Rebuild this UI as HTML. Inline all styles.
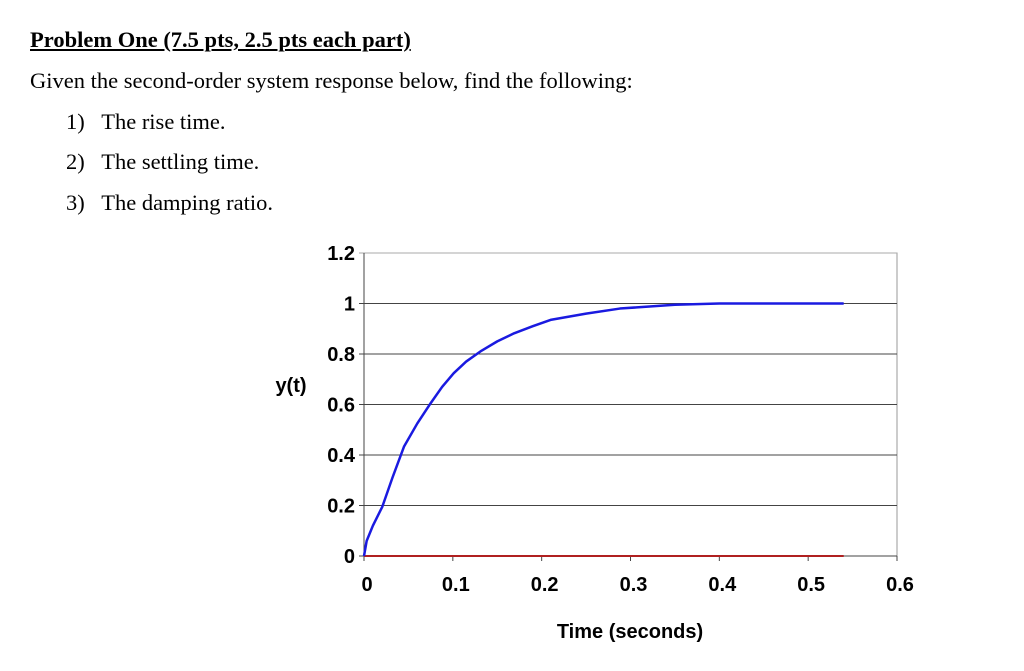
<!DOCTYPE html>
<html><head><meta charset="utf-8"><style>
body{margin:0;background:#fff;width:1024px;height:671px;overflow:hidden;font-family:"Liberation Serif",serif;color:#000}
.t{position:absolute;font-size:22.5px;white-space:nowrap}
svg text{font-family:"Liberation Sans",sans-serif;font-weight:bold;font-size:20px}
</style></head><body>
<div class="t" style="left:30px;top:27px;font-weight:bold;text-decoration:underline">Problem One (7.5 pts, 2.5 pts each part)</div>
<div class="t" style="left:30px;top:68px">Given the second-order system response below, find the following:</div>
<div class="t" style="left:66px;top:109px">1)&nbsp;&nbsp; The rise time.</div>
<div class="t" style="left:66px;top:149px">2)&nbsp;&nbsp; The settling time.</div>
<div class="t" style="left:66px;top:190px">3)&nbsp;&nbsp; The damping ratio.</div>
<svg id="c" width="1024" height="671" style="position:absolute;left:0;top:0"></svg>
<script>
const xTicks=[0,0.1,0.2,0.3,0.4,0.5,0.6];
const yTicks=[0,0.2,0.4,0.6,0.8,1,1.2];
const tVals=[0,0.003,0.01,0.0206,0.032,0.045,0.06,0.075,0.088,0.101,0.115,0.131,0.15,0.169,0.19,0.21,0.25,0.288,0.35,0.4,0.54];
const yVals=[0,0.06,0.12,0.195,0.31,0.433,0.525,0.605,0.67,0.724,0.77,0.81,0.85,0.882,0.91,0.935,0.96,0.98,0.995,1.0,1.0];
const refT=[0,0.54];
const refY=[0,0];
const X0=364,X1=897,Y0=556,Y1=253;
const sx=t=>X0+(X1-X0)*t/0.6;
const sy=v=>Y0-(Y0-Y1)*v/1.2;
const svg=document.getElementById('c');
const NS='http://www.w3.org/2000/svg';
function mk(tag,a){const e=document.createElementNS(NS,tag);for(const k in a)e.setAttribute(k,a[k]);svg.appendChild(e);return e;}
const box=mk('rect',{x:X0,y:Y1,width:X1-X0,height:Y0-Y1,fill:'none',stroke:'#999','stroke-width':1});


yTicks.forEach(v=>{
  const g=mk('line',{x1:X0-5,x2:X1,y1:sy(v),y2:sy(v),stroke:v===1.2?'#aaa':'#444','stroke-width':1});
  
  
  const t=mk('text',{x:X0-9,y:sy(v)+7,'text-anchor':'end'});t.textContent=String(v);
  
  
});
xTicks.forEach(v=>{
  const g=mk('line',{x1:sx(v),x2:sx(v),y1:Y0,y2:Y0+5,stroke:'#444'});
  
  
  const t=mk('text',{x:sx(v)+3,y:Y0+35,'text-anchor':'middle'});t.textContent=String(v);
  
  
});
const ax=mk('line',{x1:X0,x2:X0,y1:Y1,y2:Y0,stroke:'#444'});


const r=mk('polyline',{points:refT.map((t,i)=>sx(t)+','+sy(refY[i])).join(' '),fill:'none',stroke:'#b02020','stroke-width':2});


const p=mk('polyline',{points:tVals.map((t,i)=>sx(t)+','+sy(yVals[i])).join(' '),fill:'none',stroke:'#1a1ae0','stroke-width':2.5,'stroke-linejoin':'round'});


const yl=mk('text',{x:291,y:392,'text-anchor':'middle'});yl.textContent='y(t)';


const xl=mk('text',{x:630,y:638,'text-anchor':'middle'});xl.textContent='Time (seconds)';


</script>
</body></html>
